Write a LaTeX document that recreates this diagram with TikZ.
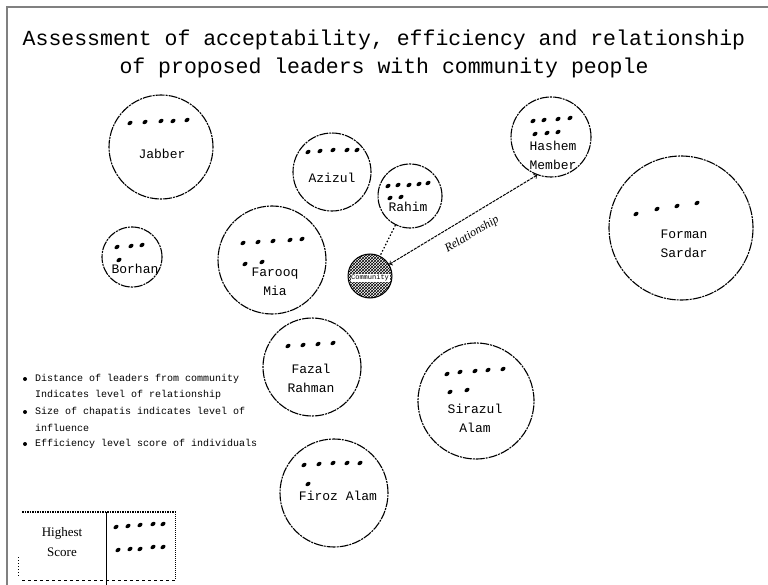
\documentclass[tikz,border=0pt]{standalone}
\usepackage{fontspec}
\setmainfont{Liberation Serif}
\setmonofont{Liberation Mono}
\usetikzlibrary{patterns}

\tikzset{
  leader/.style={circle, draw, line width=1.1pt, dash pattern=on 9pt off 1pt on 2pt off 1pt, inner sep=0pt},
  leadername/.style={font=\fontsize{13}{19}\selectfont\ttfamily, align=center},
  legendtext/.style={font=\fontsize{10}{12}\selectfont\ttfamily, anchor=west, inner sep=0pt},
}

\begin{document}
\begin{tikzpicture}[x=1pt,y=-1pt]
\newcommand{\chapati}[2]{\fill (#1,#2) ellipse [x radius=2.8pt, y radius=1.9pt, rotate=35];}
\useasboundingbox (0,0) rectangle (768,585);
\draw[gray, line width=1.5pt] (7,585) -- (7,7) -- (768,7);
\node[font=\fontsize{21.5}{28}\selectfont\ttfamily, align=center] (title) at (384,54)
  {Assessment of acceptability, efficiency and relationship\\of proposed leaders with community people};

\node[leader, minimum size=104pt] (jabber) at (161,147) {};
\node[leader, minimum size=78pt] (azizul) at (332,172) {};
\node[leader, minimum size=64pt] (rahim) at (410,196) {};
\node[leader, minimum size=80pt] (hashem) at (551,137) {};
\node[leader, minimum size=144pt] (forman) at (681,228) {};
\node[leader, minimum size=60pt] (borhan) at (132,257) {};
\node[leader, minimum size=108pt] (farooq) at (272,260) {};
\node[leader, minimum size=98pt] (fazal) at (312,367) {};
\node[leader, minimum size=116pt] (sirazul) at (476,401) {};
\node[leader, minimum size=108pt] (firoz) at (334,493) {};
\node[circle, draw, line width=1pt, pattern=crosshatch, minimum size=44pt, inner sep=0pt] (community) at (370,276) {};

\node[leadername] (jabbername) at (162,154) {Jabber};
\node[leadername] (azizulname) at (332,178) {Azizul};
\node[leadername] (rahimname) at (408,207) {Rahim};
\node[leadername] (hashemname) at (553,155) {Hashem\\Member};
\node[leadername] (formanname) at (684,244) {Forman\\Sardar};
\node[leadername] (borhanname) at (135,269) {Borhan};
\node[leadername] (farooqname) at (275,282) {Farooq\\Mia};
\node[leadername] (fazalname) at (311,378) {Fazal\\Rahman};
\node[leadername] (sirazulname) at (475,418) {Sirazul\\Alam};
\node[leadername] (firozname) at (338,496) {Firoz Alam};
\node[fill=white, font=\fontsize{7}{7}\selectfont\ttfamily, inner sep=0.6pt] (communityname) at (370,278) {Community};

\foreach \x/\y in {130/123,145/122,161/121,173/121,187/120,
                   308/152,320/151,333/150,347/150,357/150,
                   388/186,398/185,409/185,419/184,428/183,390/198,401/197,
                   533/121,544/120,558/119,570/118,535/134,547/133,558/132,
                   636/214,657/209,677/206,697/203,
                   117/247,131/246,142/245,119/260,
                   243/243,258/242,273/241,290/240,302/239,245/264,262/262,
                   288/346,303/345,318/344,333/343,
                   447/374,460/372,475/371,488/370,503/369,450/392,467/390,
                   304/465,319/464,333/463,347/463,360/463,308/484,
                   116/527,128/526,140/525,153/524,163/524,
                   118/550,130/549,140/549,153/547,163/547}
  {
    \chapati{\x}{\y}
  }

\draw[line width=1.2pt, dash pattern=on 1.5pt off 2pt] (rahim) -- (community);
\draw[line width=1pt, dash pattern=on 3pt off 1pt, <->] (community) -- (hashem.-110)
  node[midway, below=8pt, sloped, font=\fontsize{12}{12}\selectfont\itshape] (relationship) {Relationship};

\fill (25,379) circle (2pt);
\fill (25,412) circle (2pt);
\fill (25,444) circle (2pt);
\node[legendtext] (legenda) at (35,379) {Distance of leaders from community};
\node[legendtext] (legendb) at (35,395) {Indicates level of relationship};
\node[legendtext] (legendc) at (35,412) {Size of chapatis indicates level of};
\node[legendtext] (legendd) at (35,428) {influence};
\node[legendtext] (legende) at (35,444) {Efficiency level score of individuals};

\draw[densely dotted, line width=1.5pt] (22,512) -- (177,512);
\draw[line width=1pt] (106,512) -- (106,585);
\draw[densely dotted, line width=1pt] (175,512) -- (175,580);
\draw[dashed, line width=1pt] (22,580) -- (175,580);
\draw[dotted, line width=1pt] (18,557) -- (18,578);
\node[font=\fontsize{13}{16}\selectfont] (highest) at (62,533) {Highest};
\node[font=\fontsize{13}{16}\selectfont] (score) at (62,552) {Score};
\end{tikzpicture}
\end{document}
